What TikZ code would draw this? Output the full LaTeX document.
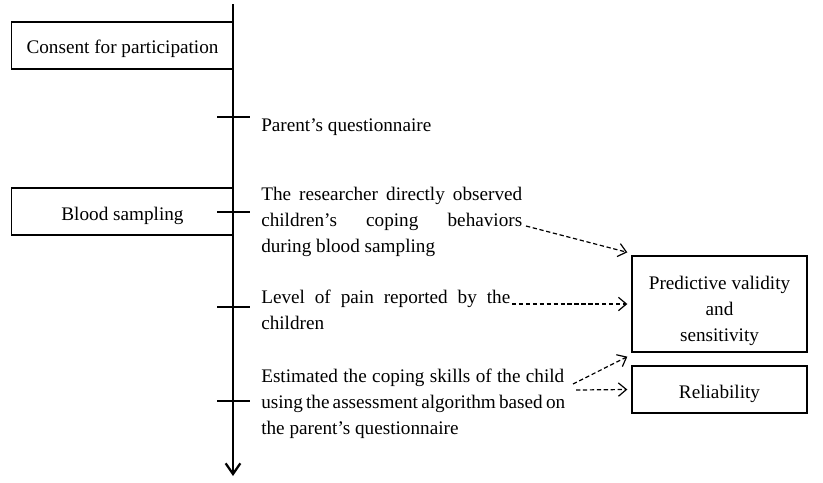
\documentclass[tikz,border=0pt]{standalone}
\usepackage{fontspec}
\setmainfont{Liberation Serif}
\usetikzlibrary{arrows.meta}
\newcommand{\lowerby}[2]{\raisebox{-#1}[\height][\depth]{#2}}
\begin{document}
\begin{tikzpicture}[x=0.75pt,y=-0.75pt,
  font=\fontsize{14.4}{19.5}\selectfont,
  box/.style={draw,line width=1pt,inner sep=0pt,align=center},
  tick/.style={line width=1.6pt},
  txt/.style={inner sep=0pt,align=left,anchor=west},
  dasharrow/.style={dash pattern=on 3.2pt off 2pt,line width=0.9pt,-{Straight Barb[length=6pt,width=10pt,line width=0.9pt]}}]
\useasboundingbox (0,0) rectangle (823,482);
% main time line
\coordinate (top) at (233,4);
\coordinate (bot) at (233,476);
\draw[line width=1.7pt,-{Straight Barb[length=8pt,width=11pt,line width=1.7pt]}] (top) -- (bot);
% left boxes
\node[box,minimum width=166.5pt,minimum height=35.25pt] (consent) at (122.5,45.5) {\lowerby{2.25pt}{Consent for participation}};
\node[box,minimum width=166.5pt,minimum height=35.25pt] (blood) at (122.5,211.5) {\lowerby{3pt}{Blood sampling}};
% ticks
\foreach \y/\n in {117/t1,212/t2,307/t3,401/t4}{
  \coordinate (\n l) at (217,\y);
  \coordinate (\n r) at (250,\y);
  \draw[tick] (\n l) -- (\n r);
}
% texts
\node[txt] (parent) at (261,127) {Parent’s questionnaire};
\node[txt] (observe) at (261,221.5) {\makebox[195.75pt][s]{The researcher directly observed}\\
\makebox[195.75pt][s]{children’s coping behaviors}\\during blood sampling};
\node[txt] (pain) at (261,309.5) {\makebox[186.75pt][s]{Level of pain reported by the}\\children};
\node[txt] (estim) at (261,403.5) {\makebox[227.25pt][s]{Estimated the coping skills of the child}\\
\makebox[227.25pt][s]{using the assessment algorithm based on}\\the parent’s questionnaire};
% right boxes
\node[box,minimum width=131.25pt,minimum height=72pt] (pred) at (719.5,304) {\lowerby{5pt}{\begin{tabular}{@{}c@{}}Predictive validity\\and\\sensitivity\end{tabular}}};
\node[box,minimum width=131.25pt,minimum height=35.25pt] (rel) at (719.5,389.5) {\lowerby{3.5pt}{Reliability}};
% arrow start points
\coordinate (s1) at (526,226);
\coordinate (s2) at (512,304);
\coordinate (s3) at (573,384);
\coordinate (s4) at (576,390);
\draw[dasharrow] (s1) -- ([shift={(-4,-3)}]pred.north west);
\draw[dasharrow] (s2) -- ([xshift=-3pt]pred.west);
\draw[dasharrow] (s3) -- ([shift={(-4,4)}]pred.south west);
\draw[dasharrow] (s4) -- ([xshift=-3pt]rel.west);
\end{tikzpicture}
\end{document}
